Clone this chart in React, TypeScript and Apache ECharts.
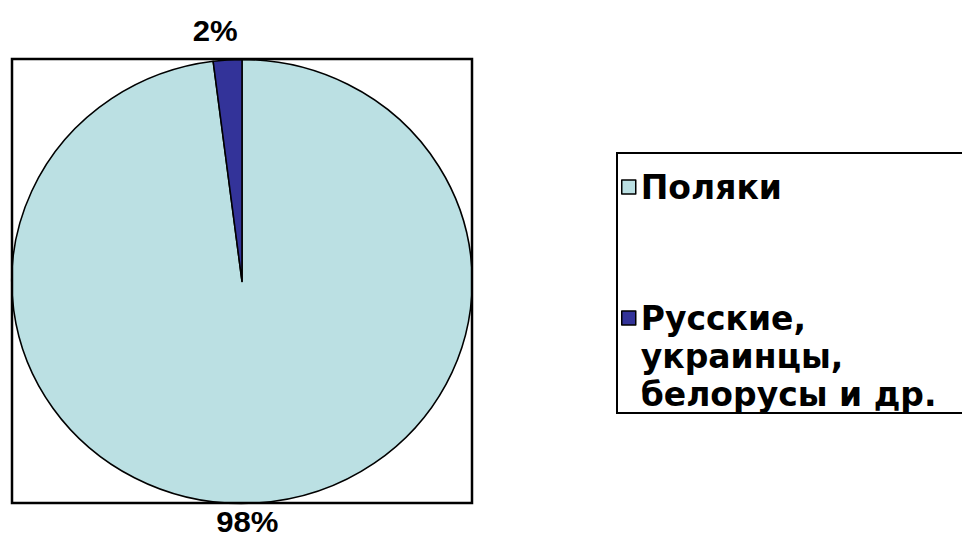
import React, { useEffect, useRef } from "react";
import * as echarts from "echarts";

const categories = ["Поляки", "Русские,\nукраинцы,\nбелорусы и др."];
const values = [98, 2];
const labels = ["98%", "2%"];
const colors = ["#BBE0E3", "#333399"];

const CX = 242;
const CY = 281.5;
const R = 222;
const STRETCH_X = 1.037;
const LABEL_R = [240, 252];
const LABEL_SHIFT_X = -10;

export default function App() {
  const pieRef = useRef<HTMLDivElement>(null);
  const topRef = useRef<HTMLDivElement>(null);
  useEffect(() => {
    if (!pieRef.current || !topRef.current) return;
    const pie = echarts.init(pieRef.current, null, { renderer: "svg" });
    const top = echarts.init(topRef.current, null, { renderer: "svg" });
    const total = values.reduce((a, b) => a + b, 0);
    const mids: number[] = [];
    let acc = 0;
    values.forEach((v) => {
      mids.push(acc + v / 2);
      acc += v;
    });
    pie.setOption({
      animation: false,
      series: [
        {
          type: "pie",
          center: [CX, CY],
          radius: R,
          startAngle: 90,
          clockwise: true,
          silent: true,
          data: categories.map((c, i) => ({
            name: c,
            value: values[i],
            itemStyle: { color: colors[i] },
          })),
          itemStyle: { borderColor: "#000", borderWidth: 1.5 },
          label: {
            show: true,
            position: "outside",
            formatter: (p: any) => labels[p.dataIndex],
            fontFamily: "Liberation Sans, Arial, sans-serif",
            fontWeight: "bold",
            fontSize: 30,
            color: "#000",
          },
          labelLine: { show: false },
          labelLayout: (p: any) => {
            const i = p.dataIndex;
            const ang = Math.PI / 2 - (mids[i] / total) * Math.PI * 2;
            return {
              x: CX + LABEL_R[i] * Math.cos(ang) + LABEL_SHIFT_X,
              y: CY - LABEL_R[i] * Math.sin(ang),
              align: "center",
              verticalAlign: "middle",
            };
          },
        },
      ],
    });
    const LH = 38;
    top.setOption({
      animation: false,
      graphic: [
        {
          type: "rect",
          shape: { x: 12, y: 59, width: 460, height: 444 },
          style: { fill: "none", stroke: "#000", lineWidth: 2.5 },
        },
      ],
      legend: {
        orient: "vertical",
        left: 617,
        top: 153,
        padding: [15, 80, 0, 4],
        borderColor: "#000",
        borderWidth: 2,
        itemWidth: 14,
        itemHeight: 14,
        itemGap: 17,
        icon: "rect",
        selectedMode: false,
        itemStyle: { borderColor: "#000", borderWidth: 1.5 },
        formatter: (name: string) => (name === categories[1] ? "\n\n" + name : name),
        textStyle: {
          fontFamily: "DejaVu Sans, sans-serif",
          fontWeight: "bold",
          fontSize: 33,
          color: "#000",
          lineHeight: LH,
        },
        data: categories,
      },
      series: [
        {
          type: "pie",
          radius: 0,
          center: [-100, -100],
          silent: true,
          label: { show: false },
          labelLine: { show: false },
          data: categories.map((c, i) => ({
            name: c,
            value: values[i],
            itemStyle: { color: colors[i] },
          })),
        },
      ],
    });
    return () => {
      pie.dispose();
      top.dispose();
    };
  }, []);
  return (
    <div style={{ position: "absolute", left: 0, top: 0, width: 962, height: 557, overflow: "hidden", background: "#fff" }}>
      <div
        ref={pieRef}
        style={{
          position: "absolute",
          left: 0,
          top: 0,
          width: 962,
          height: 557,
          transform: `scaleX(${STRETCH_X})`,
          transformOrigin: `${CX}px 0px`,
        }}
      />
      <div
        ref={topRef}
        style={{ position: "absolute", left: 0, top: 0, width: 962, height: 557, pointerEvents: "none" }}
      />
    </div>
  );
}
